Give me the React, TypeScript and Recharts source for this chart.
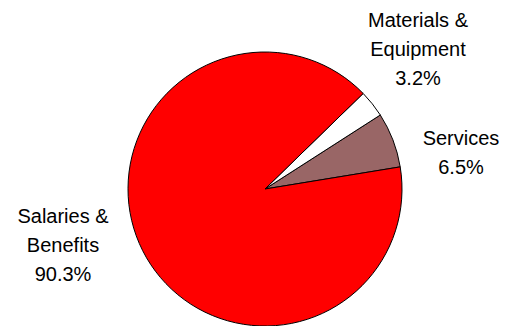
import { PieChart, Pie, Cell } from 'recharts';

const categories = ['Services', 'Materials & Equipment', 'Salaries & Benefits'];
const shares = [6.5, 3.2, 90.3];
const labelLines = [['Services'], ['Materials &', 'Equipment'], ['Salaries &', 'Benefits']];
const colors = ['#996666', '#FFFFFF', '#FF0000'];

// label block centre, relative to pie centre (first baseline)
const labelOffsets = [
  { dx: 196, dy: -44 },
  { dx: 153, dy: -162 },
  { dx: -202, dy: 34 },
];

const data = categories.map((name, i) => ({ name, value: shares[i] }));

const LINE = 29;

const renderLabel = (props: any) => {
  const { cx, cy, index } = props;
  const off = labelOffsets[index];
  const x = cx + off.dx;
  const y = cy + off.dy;
  const lines = [...labelLines[index], `${shares[index].toFixed(1)}%`];
  return (
    <text
      x={x}
      y={y}
      textAnchor="middle"
      fill="#000"
      fontSize={20}
      fontFamily="'Liberation Sans', Arial, sans-serif"
    >
      {lines.map((l, i) => (
        <tspan key={i} x={x} dy={i === 0 ? 0 : LINE}>
          {l}
        </tspan>
      ))}
    </text>
  );
};

export default function App() {
  return (
    <div style={{ position: 'absolute', left: 0, top: 0, width: 510, height: 326, background: '#fff' }}>
      <PieChart width={510} height={326} margin={{ top: 0, right: 0, bottom: 0, left: 0 }}>
        <Pie
          data={data}
          dataKey="value"
          cx={265}
          cy={189}
          outerRadius={137}
          startAngle={9.3}
          endAngle={369.3}
          stroke="#000"
          strokeWidth={1}
          label={renderLabel}
          labelLine={false}
          isAnimationActive={false}
        >
          {data.map((entry, index) => (
            <Cell key={`cell-${index}`} fill={colors[index]} />
          ))}
        </Pie>
      </PieChart>
    </div>
  );
}
